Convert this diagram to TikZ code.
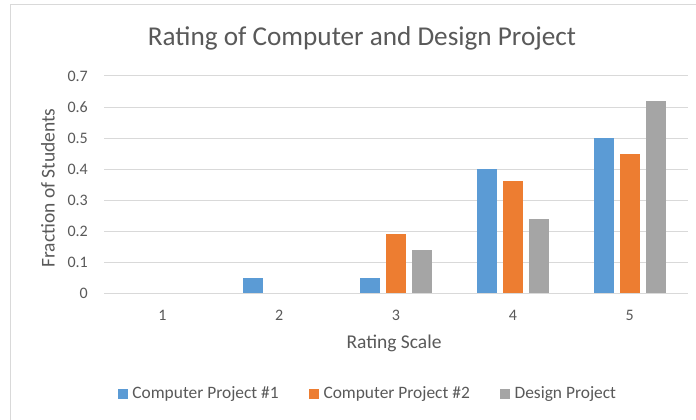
\documentclass[tikz,border=0pt]{standalone}
\usepackage{fontspec}
\setmainfont{Carlito}
\usetikzlibrary{positioning}
\definecolor{cpone}{HTML}{5B9BD5}
\definecolor{cptwo}{HTML}{ED7D31}
\definecolor{design}{HTML}{A5A5A5}
\definecolor{labelgray}{HTML}{595959}
\definecolor{gridgray}{HTML}{D9D9D9}
\tikzstyle{ticklabel} = [font=\fontsize{16}{18}\selectfont, text=labelgray, inner sep=0pt]
\tikzstyle{axistitle} = [font=\fontsize{19.5}{22}\selectfont, text=labelgray, inner sep=0pt]
\tikzstyle{gridline} = [draw=gridgray, line width=1pt]
\tikzstyle{legendkey} = [minimum size=10pt, inner sep=0pt]
\tikzstyle{legendtext} = [font=\fontsize{17.4}{20}\selectfont, text=labelgray, inner sep=0pt, right=4pt]

% one bar of a group, left out when its value is zero
\newcommand{\ratingbar}[3]{%
    \ifdim #3pt>0pt
        \fill [#1] (#2-10,293) rectangle (#2+10,293-310*#3);
    \fi}

\begin{document}
\begin{tikzpicture}[x=1pt, y=-1pt]
    \useasboundingbox (0,0) rectangle (696,420);
    \fill[white] (0,0) rectangle (696,420);
    \draw[gridgray, line width=1.5pt] (10.5,421) -- (10.5,4.5) -- (697,4.5);

    \node [font=\fontsize{27.2}{32}\selectfont, text=labelgray] (title) at (362,38) {Rating of Computer and Design Project};

    % grid and y ticks
    \foreach \k/\lab in {0/0,1/0.1,2/0.2,3/0.3,4/0.4,5/0.5,6/0.6,7/0.7} {
        \draw [gridline] (104,293-31*\k) -- (688,293-31*\k);
        \node [ticklabel, anchor=east] (ytick\k) at (88,293-31*\k) {\lab};
    }

    % bars, one group per rating
    \foreach \i/\a/\b/\c in {1/0/0/0, 2/0.05/0/0, 3/0.05/0.19/0.14, 4/0.40/0.36/0.24, 5/0.50/0.45/0.62} {
        \pgfmathsetmacro{\cx}{104+116.8*(\i-0.5)}
        \ratingbar{cpone}{\cx-26}{\a}
        \ratingbar{cptwo}{\cx}{\b}
        \ratingbar{design}{\cx+26}{\c}
        \node [ticklabel] (xtick\i) at (\cx,315) {\i};
    }

    \node [axistitle] (xtitle) at (394,343) {Rating Scale};
    \node [axistitle, rotate=90] (ytitle) at (48,188) {Fraction of Students};

    % legend
    \node [legendkey, fill=cpone] (keyone) at (123,394) {};
    \node [legendtext] (txtone) at (keyone.east) {Computer Project \#1};
    \node [legendkey, fill=cptwo, right=30pt of txtone] (keytwo) {};
    \node [legendtext] (txttwo) at (keytwo.east) {Computer Project \#2};
    \node [legendkey, fill=design, right=30pt of txttwo] (keydesign) {};
    \node [legendtext] (txtdesign) at (keydesign.east) {Design Project};
\end{tikzpicture}
\end{document}
